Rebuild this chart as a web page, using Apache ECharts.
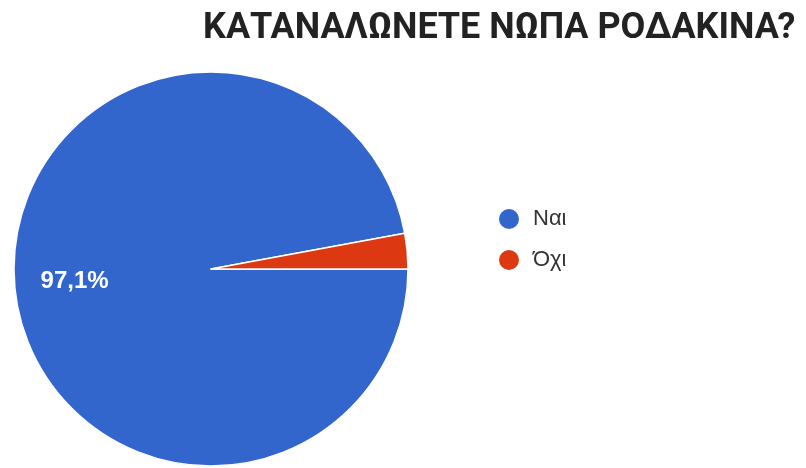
<!DOCTYPE html>
<html>
<head>
<meta charset="utf-8">
<script src="https://cdn.jsdelivr.net/npm/echarts@6/dist/echarts.min.js"></script>
<style>
  html, body { margin: 0; padding: 0; background: #ffffff; }
  #chart { width: 806px; height: 468px; }
</style>
</head>
<body>
<div id="chart"></div>
<script>
// Survey answers and their shares (%)
const categories = ['Ναι', 'Όχι'];
const shares = [97.1, 2.9];
const colors = ['#3366cc', '#dc3912'];
const titleText = 'ΚΑΤΑΝΑΛΩΝΕΤΕ ΝΩΠΑ ΡΟΔΑΚΙΝΑ?';

const pieData = categories.map((name, i) => ({
  name: name,
  value: shares[i],
  itemStyle: { color: colors[i] }
}));

const center = [211, 269];
const radius = 197;

const chart = echarts.init(document.getElementById('chart'), null, { renderer: 'canvas' });

chart.setOption({
  backgroundColor: '#ffffff',
  animation: false,
  title: {
    text: titleText,
    left: 203,
    top: 11,
    padding: 0,
    textStyle: {
      fontFamily: 'Roboto',
      fontWeight: 'bold',
      fontSize: 36,
      color: '#222222'
    }
  },
  legend: {
    orient: 'vertical',
    left: 497,
    top: 207,
    padding: 0,
    icon: 'circle',
    itemWidth: 22,
    itemHeight: 22,
    itemGap: 17,
    data: categories,
    textStyle: {
      fontFamily: 'Liberation Sans',
      fontSize: 22,
      color: '#333333',
      padding: [0, 0, 0, 8]
    }
  },
  series: [
    {
      type: 'pie',
      center: center,
      radius: [0, radius],
      startAngle: 0,
      clockwise: true,
      data: pieData,
      label: { show: false },
      labelLine: { show: false },
      itemStyle: { borderColor: '#ffffff', borderWidth: 1.5 },
      emphasis: { disabled: true }
    },
    {
      // transparent ring that carries the percentage label further out
      type: 'pie',
      center: center,
      radius: [radius * 0.36, radius],
      startAngle: 0,
      clockwise: true,
      silent: true,
      data: pieData.map(d => ({ name: d.name, value: d.value })),
      itemStyle: { color: 'rgba(0,0,0,0)' },
      labelLine: { show: false },
      label: {
        show: true,
        position: 'inside',
        formatter: p => p.value > 10 ? p.value.toFixed(1).replace('.', ',') + '%' : '',
        fontFamily: 'Liberation Sans',
        fontWeight: 'bold',
        fontSize: 24,
        color: '#ffffff'
      },
      emphasis: { disabled: true }
    }
  ]
});
</script>
</body>
</html>
